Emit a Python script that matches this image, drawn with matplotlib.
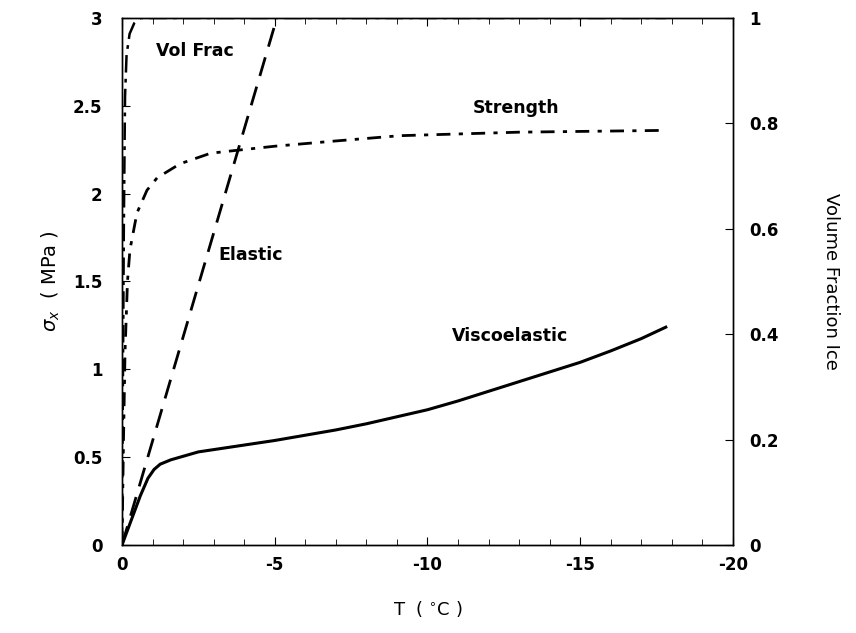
import matplotlib.pyplot as plt
from matplotlib.ticker import MultipleLocator, FormatStrFormatter

# Datos (T en grados C, sigma en MPa)
t_elastic = [0, -5.07]
s_elastic = [0, 3.0]

t_visco = [0, -0.3, -0.6, -0.85, -1.05, -1.25, -1.6, -2.5, -5, -6, -7, -8, -9, -10,
           -11, -12, -13, -14, -15, -16, -17, -17.8]
s_visco = [0, 0.14, 0.28, 0.38, 0.43, 0.46, 0.485, 0.53, 0.595, 0.625, 0.655, 0.69,
           0.73, 0.77, 0.82, 0.875, 0.93, 0.985, 1.04, 1.105, 1.175, 1.24]

t_strength = [0, -0.05, -0.1, -0.18, -0.26, -0.49, -0.82, -1.15, -1.9, -2.9, -3.4, -5,
              -7, -9.1, -13, -17.7]
s_strength = [0, 0.6, 1.1, 1.5, 1.68, 1.89, 2.02, 2.09, 2.17, 2.23, 2.24, 2.27,
              2.30, 2.33, 2.35, 2.36]

t_volfrac = [0, -0.03, -0.06, -0.1, -0.15, -0.25, -0.4, -0.6, -17.8]
volfrac = [0, 0.3, 0.6, 0.85, 0.93, 0.97, 0.99, 1.0, 1.0]

plt.rcParams['font.family'] = ['DejaVu Sans']
plt.rcParams['axes.unicode_minus'] = False

fig = plt.figure(figsize=(8.56, 6.33), dpi=100)
ax = fig.add_axes([0.1425, 0.139, 0.7138, 0.8326])
ax2 = ax.twinx()

ax.plot(t_elastic, s_elastic, color='black', lw=2, dashes=(7, 4))
ax.plot(t_visco, s_visco, color='black', lw=2.2)
ax.plot(t_strength, s_strength, color='black', lw=2, dashes=(5, 3, 1.5, 3))
ax2.plot(t_volfrac, volfrac, color='black', lw=1.8, dashes=(7, 2.5, 1.5, 2.5))

ax.set_xlim(0, -20)
ax.set_ylim(0, 3)
ax2.set_ylim(0, 1)

ax.xaxis.set_major_locator(MultipleLocator(5))
ax.xaxis.set_minor_locator(MultipleLocator(1))
ax.yaxis.set_major_locator(MultipleLocator(0.5))
ax2.yaxis.set_major_locator(MultipleLocator(0.2))
ax.xaxis.set_major_formatter(FormatStrFormatter('%g'))
ax.yaxis.set_major_formatter(FormatStrFormatter('%g'))
ax2.yaxis.set_major_formatter(FormatStrFormatter('%g'))

ax.tick_params(which='both', direction='in', top=True, labelsize=12)
ax.tick_params(axis='y', pad=14)
ax.tick_params(axis='x', pad=8)
ax.tick_params(which='major', length=6)
ax.tick_params(which='minor', length=4)
ax2.tick_params(direction='in', length=6, labelsize=12, pad=12)
for lab in ax.get_xticklabels() + ax.get_yticklabels() + ax2.get_yticklabels():
    lab.set_fontweight('bold')

for a in (ax, ax2):
    for sp in a.spines.values():
        sp.set_linewidth(1)

ax.set_xlabel('T  ( $^{\\circ}$C )', fontsize=13, labelpad=18)
ax.set_ylabel('$\\sigma_x$  ( MPa )', fontsize=14, labelpad=8)
ax2.set_ylabel('Volume Fraction Ice', fontsize=13, rotation=-90, labelpad=44)

ax.text(-2.4, 2.81, 'Vol Frac', fontsize=12.5, fontweight='bold', ha='center', va='center')
ax.text(-12.9, 2.49, 'Strength', fontsize=12.5, fontweight='bold', ha='center', va='center')
ax.text(-4.2, 1.65, 'Elastic', fontsize=12.5, fontweight='bold', ha='center', va='center')
ax.text(-12.7, 1.19, 'Viscoelastic', fontsize=12.5, fontweight='bold', ha='center', va='center')

fig.savefig('out.png', dpi=100)
